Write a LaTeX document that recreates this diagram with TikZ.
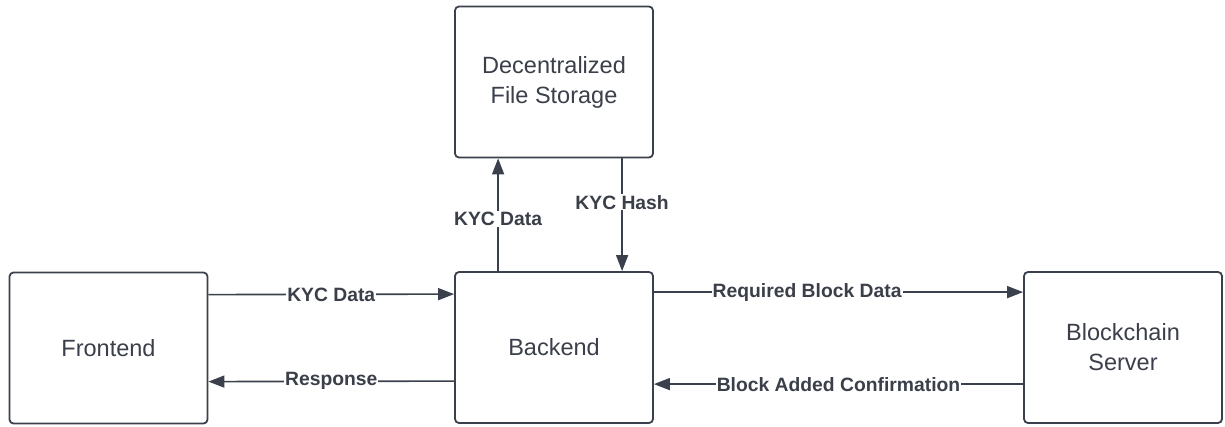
\documentclass[tikz,border=0pt]{standalone}
\usepackage{fontspec}
\setmainfont{Liberation Sans}
\usetikzlibrary{arrows.meta}
\definecolor{ink}{HTML}{3B414C}
\definecolor{txt}{HTML}{3A3F49}
\tikzset{
  box/.style={draw=ink, line width=1.8pt, rounded corners=4pt, fill=white,
    minimum width=198pt, minimum height=151pt, align=center,
    font=\fontsize{23.5}{30}\selectfont, text=txt},
  arr/.style={draw=ink, line width=1.6pt, -{Triangle[length=16pt,width=12pt]}},
  lbl/.style={fill=white, inner sep=1pt, text=txt,
    font=\fontsize{19.3}{22}\selectfont\bfseries},
}
\begin{document}
\begin{tikzpicture}[x=1pt,y=-1pt]
\useasboundingbox (0,0) rectangle (1225,426);
\node[box] (fe) at (108.5,348) {Frontend};
\node[box] (be) at (554,347.5) {Backend};
\node[box] (st) at (554,82) {Decentralized\\File Storage};
\node[box] (bc) at (1123,347.5) {Blockchain\\Server};

\draw[arr] ([yshift=-23pt]fe.north east) -- node[lbl] {KYC Data} ([yshift=-23pt]be.north west);
\draw[arr] ([yshift=-110pt]be.north west) -- node[lbl] {Response} ([yshift=-110pt]fe.north east);
\draw[arr] ([yshift=-21pt]be.north east) -- node[lbl, pos=0.415] {Required Block Data} ([yshift=-21pt]bc.north west);
\draw[arr] ([yshift=-113pt]bc.north west) -- node[lbl] {Block Added Confirmation} ([yshift=-113pt]be.north east);
\draw[arr] ([xshift=44pt]be.north west) -- node[lbl, pos=0.46] {KYC Data} ([xshift=44pt]st.south west);
\draw[arr] ([xshift=168pt]st.south west) -- node[lbl, pos=0.39] {KYC Hash} ([xshift=168pt]be.north west);
\end{tikzpicture}
\end{document}
